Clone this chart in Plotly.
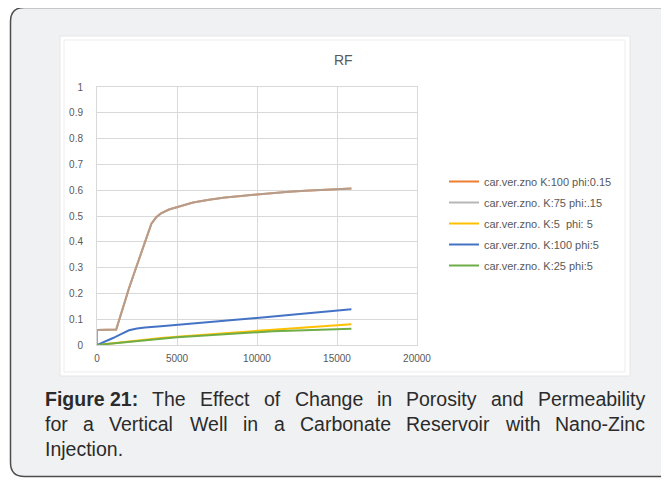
import plotly.graph_objects as go

W, H = 669, 504
OFF = 8  # page body margin of the rendered html

# ---- data ----
x_hi = [0, 0, 1200, 1600, 2000, 2500, 3000, 3400, 3700, 4000, 4500, 5000, 6000, 7000,
        8000, 9000, 10000, 11000, 12000, 13000, 14000, 15000, 15900]
rf_k100_phi015 = [0, 0.058, 0.06, 0.14, 0.22, 0.31, 0.40, 0.47, 0.495, 0.51, 0.525, 0.535,
                  0.552, 0.563, 0.572, 0.578, 0.584, 0.589, 0.594, 0.598, 0.601, 0.604, 0.607]
rf_k75_phi015 = [0, 0.058, 0.06, 0.14, 0.22, 0.31, 0.40, 0.47, 0.495, 0.51, 0.525, 0.535,
                 0.552, 0.563, 0.572, 0.578, 0.584, 0.589, 0.594, 0.598, 0.601, 0.604, 0.607]

x_lo = [0, 1000, 2000, 3000, 4000, 5000, 6000, 7000, 8000, 9000, 10000, 11000, 12000,
        13000, 14000, 15000, 15900]
rf_k5_phi5 = [0, 0.007, 0.014, 0.021, 0.027, 0.032, 0.037, 0.042, 0.046, 0.051, 0.055,
              0.059, 0.063, 0.067, 0.071, 0.076, 0.080]
rf_k25_phi5 = [0, 0.006, 0.012, 0.018, 0.025, 0.030, 0.034, 0.038, 0.042, 0.046, 0.050,
               0.053, 0.055, 0.057, 0.059, 0.061, 0.063]

x_blue = [0, 500, 1000, 1500, 2000, 2500, 3000, 4000, 5000, 6000, 7000, 8000, 9000, 10000,
          11000, 12000, 13000, 14000, 15000, 15900]
rf_k100_phi5 = [0, 0.012, 0.027, 0.042, 0.057, 0.064, 0.068, 0.073, 0.078, 0.083, 0.088,
                0.093, 0.098, 0.104, 0.110, 0.116, 0.122, 0.128, 0.134, 0.139]

series_names = ["car.ver.zno K:100 phi:0.15", "car.ver.zno. K:75 phi:.15",
                "car.ver.zno. K:5  phi: 5", "car.ver.zno. K:100 phi:5",
                "car.ver.zno. K:25 phi:5"]
series_colors = ["#ED7D31", "rgba(165,165,165,0.8)", "#FFC000", "#4472C4", "#70AD47"]

x_ticks = [0, 5000, 10000, 15000, 20000]
y_ticks = [0, 0.1, 0.2, 0.3, 0.4, 0.5, 0.6, 0.7, 0.8, 0.9, 1]
y_tick_text = ["0", "0.1", "0.2", "0.3", "0.4", "0.5", "0.6", "0.7", "0.8", "0.9", "1"]

chart_title = "RF"
caption_lines = [
    ["Figure 21:", "The", "Effect", "of", "Change", "in", "Porosity", "and", "Permeability"],
    ["for", "a", "Vertical", "Well", "in", "a", "Carbonate", "Reservoir", "with", "Nano-Zinc"],
    ["Injection."],
]

# ---- layout helpers (screen pixel -> paper) ----
def px(x):
    return (x - OFF) / W

def py(y):
    return 1 - (y - OFF) / H

fig = go.Figure()
data = [(x_hi, rf_k100_phi015), (x_hi, rf_k75_phi015), (x_lo, rf_k5_phi5),
        (x_blue, rf_k100_phi5), (x_lo, rf_k25_phi5)]
for i, ((xs, ys), name, col) in enumerate(zip(data, series_names, series_colors)):
    fig.add_trace(go.Scatter(x=xs, y=ys, mode="lines", name=name,
                             line=dict(color=col, width=2), legendgroup=f"g{i}"))

# rounded outer box
L, T, R, B, r = 10.5, 7.5, 678, 476.5, 14
path = (f"M {px(L+r)},{py(T)} L {px(R-r)},{py(T)} Q {px(R)},{py(T)} {px(R)},{py(T+r)} "
        f"L {px(R)},{py(B-r)} Q {px(R)},{py(B)} {px(R-r)},{py(B)} "
        f"L {px(L+r)},{py(B)} Q {px(L)},{py(B)} {px(L)},{py(B-r)} "
        f"L {px(L)},{py(T+r)} Q {px(L)},{py(T)} {px(L+r)},{py(T)} Z")
shapes = [
    dict(type="path", xref="paper", yref="paper", path=path, fillcolor="#F0F1F3",
         line=dict(color="#4D4D4D", width=1.5), layer="below"),
    dict(type="rect", xref="paper", yref="paper", x0=px(60), x1=px(630), y0=py(376), y1=py(36),
         fillcolor="#FFFFFF", line=dict(color="#E6E6E6", width=1), layer="below"),
    dict(type="rect", xref="paper", yref="paper", x0=px(64), x1=px(625), y0=py(372), y1=py(40),
         fillcolor="#FFFFFF", line=dict(color="#EDEDED", width=1), layer="below"),
]

annotations = [dict(text=chart_title, x=px(343), y=py(60), xref="paper", yref="paper",
                    showarrow=False, xanchor="center", yanchor="middle",
                    font=dict(family="Liberation Sans, Arial", size=14, color="#595959"))]

# Arial / Liberation Sans advance widths (1/1000 em) for justifying the caption
REG = {' ': 278, 'a': 556, 'b': 556, 'c': 500, 'd': 556, 'e': 556, 'f': 278, 'g': 556,
       'h': 556, 'i': 222, 'j': 222, 'l': 222, 'm': 833, 'n': 556, 'o': 556, 'p': 556,
       'r': 333, 's': 500, 't': 278, 'u': 556, 'v': 500, 'w': 722, 'y': 500, 'z': 500,
       'C': 722, 'E': 667, 'I': 278, 'N': 722, 'P': 667, 'R': 722, 'T': 611, 'V': 667,
       'W': 944, 'Z': 611, '-': 333, '.': 278}
BOLD = {'F': 611, 'i': 278, 'g': 611, 'u': 611, 'r': 389, 'e': 556, ' ': 278, '2': 556,
        '1': 556, ':': 333}
FS = 19.5
LEFT, RIGHT = 43, 643

def word_w(w):
    table = BOLD if w == "Figure 21:" else REG
    return sum(table.get(ch, 556) for ch in w) * FS / 1000

line_y = [399, 424, 449]
for li, (words, yy) in enumerate(zip(caption_lines, line_y)):
    widths = [word_w(w) for w in words]
    justify = li < len(caption_lines) - 1 and len(words) > 1
    gap = (RIGHT - LEFT - sum(widths)) / (len(words) - 1) if justify else FS * 0.278
    xx = LEFT
    for w, ww in zip(words, widths):
        txt = f"<b>{w}</b>" if w == "Figure 21:" else w
        annotations.append(dict(text=txt, x=px(xx), y=py(yy), xref="paper", yref="paper",
                                showarrow=False, xanchor="left", yanchor="middle",
                                font=dict(family="Liberation Sans, Arial", size=FS,
                                          color="#2B2B2B")))
        xx += ww + gap

axis_common = dict(showgrid=True, gridcolor="#D9D9D9", gridwidth=1, zeroline=False,
                   showline=True, mirror=True, linecolor="#D9D9D9", linewidth=1,
                   ticks="", automargin=False,
                   tickfont=dict(family="Liberation Sans, Arial", size=10, color="#595959"))

fig.update_layout(
    width=W, height=H,
    margin=dict(l=0, r=0, t=0, b=0, pad=0, autoexpand=False),
    paper_bgcolor="#FFFFFF",
    plot_bgcolor="rgba(0,0,0,0)",
    shapes=shapes,
    annotations=annotations,
    showlegend=True,
    legend=dict(x=px(444), y=py(167), xanchor="left", yanchor="top",
                font=dict(family="Liberation Sans, Arial", size=11, color="#595959"),
                tracegroupgap=2, bgcolor="rgba(0,0,0,0)", itemwidth=30),
    xaxis=dict(domain=[px(97), px(417)], range=[0, 20000], tickvals=x_ticks,
               ticktext=[str(v) for v in x_ticks], ticklabelstandoff=4, **axis_common),
    yaxis=dict(domain=[py(345), py(87)], range=[0, 1], tickvals=y_ticks, ticktext=y_tick_text,
               ticklabelstandoff=11, **axis_common),
)

fig.write_html("out.html")
